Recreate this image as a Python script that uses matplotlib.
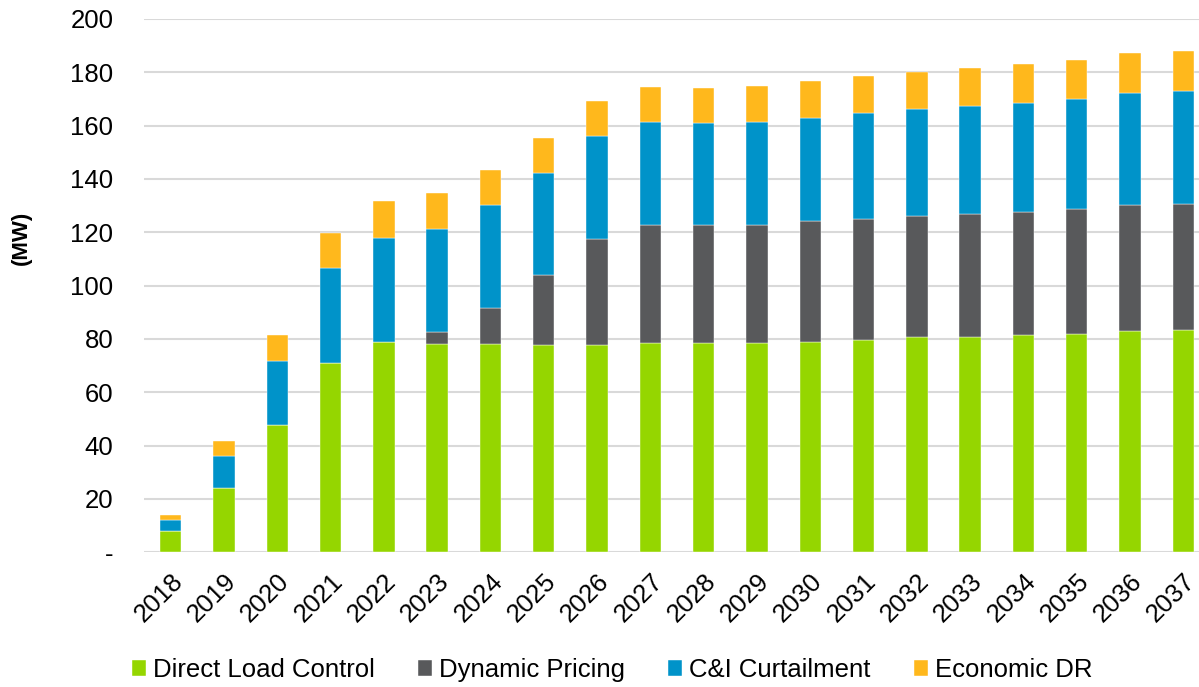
import matplotlib
matplotlib.use("Agg")
import matplotlib.pyplot as plt
import numpy as np
from matplotlib.ticker import FixedLocator, FuncFormatter

years = [str(y) for y in range(2018, 2038)]

direct_load_control = [8.0, 24.0, 47.8, 71.0, 78.7, 78.2, 78.2, 77.8, 77.9, 78.4,
                       78.4, 78.4, 79.0, 79.8, 80.7, 80.9, 81.4, 82.0, 83.0, 83.3]
dynamic_pricing = [0.0, 0.0, 0.0, 0.0, 0.0, 4.3, 13.4, 26.3, 39.5, 44.3,
                   44.3, 44.3, 45.1, 45.3, 45.6, 45.8, 46.2, 46.6, 47.1, 47.3]
ci_curtailment = [4.1, 12.3, 24.0, 35.8, 39.3, 38.8, 38.5, 38.2, 38.6, 38.5,
                  38.4, 38.5, 38.9, 39.5, 40.0, 40.6, 41.0, 41.5, 42.2, 42.5]
economic_dr = [1.9, 5.5, 9.6, 12.8, 13.6, 13.5, 13.2, 13.2, 13.2, 13.4,
               13.1, 13.5, 13.7, 14.0, 14.0, 14.2, 14.5, 14.6, 14.8, 15.0]

series_names = ["Direct Load Control", "Dynamic Pricing", "C&I Curtailment", "Economic DR"]
colors = ["#95D600", "#58595B", "#0093C9", "#FFB81C"]

plt.rcParams["font.family"] = ["Liberation Sans", "DejaVu Sans"]

W, H = 1199, 687
fig = plt.figure(figsize=(W / 100, H / 100), dpi=100)
ax = fig.add_axes([144 / W, (H - 552.3) / H, 1066 / W, 533.3 / H])

x = np.arange(len(years))
bottom = np.zeros(len(years))
handles = []
for vals, name, col in zip([direct_load_control, dynamic_pricing, ci_curtailment, economic_dr],
                           series_names, colors):
    v = np.array(vals)
    b = ax.bar(x, v, width=0.4, bottom=bottom, color=col, label=name,
               edgecolor="white", linewidth=0.3, zorder=3)
    handles.append(b)
    bottom += v

ax.set_xlim(-0.5, len(years) - 0.5)
ax.set_ylim(0, 200)
ax.yaxis.set_major_locator(FixedLocator(np.arange(0, 201, 20)))
ax.yaxis.set_major_formatter(FuncFormatter(lambda v, p: "-" if v == 0 else f"{int(v)}"))
ax.grid(axis="y", color="#D9D9D9", linewidth=1.5, zorder=0)
ax.set_axisbelow(True)
for s in ax.spines.values():
    s.set_visible(False)

ax.tick_params(axis="y", length=0, pad=22, labelsize=18.5, labelcolor="#000000")
ax.tick_params(axis="x", length=0, pad=12, labelsize=18.5, labelcolor="#000000")
ax.set_xticks(x)
ax.set_xticklabels(years, rotation=45, ha="right", rotation_mode="anchor")

fig.text(21 / W, 1 - 238 / H, "(MW)", rotation=90, fontsize=16, fontweight="bold",
         ha="center", va="center")

fig.legend(handles=handles, labels=series_names, loc="center", ncol=4,
           bbox_to_anchor=(612 / W, 1 - 670 / H), frameon=False, fontsize=18.5,
           handlelength=0.55, handleheight=0.55, handletextpad=0.25, columnspacing=1.7)

fig.savefig("out.png", dpi=100)
